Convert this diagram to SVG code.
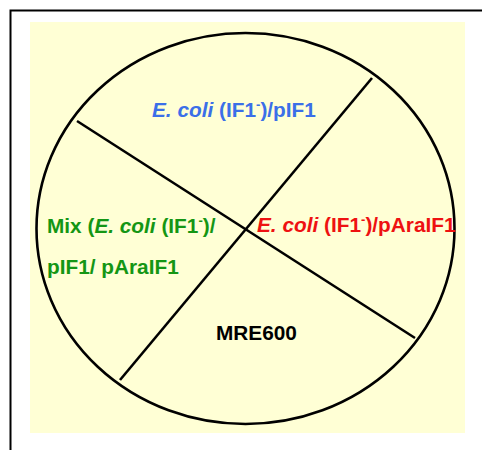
<svg xmlns="http://www.w3.org/2000/svg" width="482" height="450" viewBox="0 0 482 450">
  <style>
    .lbl { font-family: "Liberation Sans", Arial, sans-serif; font-weight: bold; font-size: 20.8px; }
    .sup { font-size: 13px; }
    .cut { stroke: #000; stroke-width: 2.6; fill: none; }
  </style>
  <rect x="0" y="0" width="482" height="450" fill="#fff"/>
  <!-- outer frame -->
  <rect x="10.5" y="10.5" width="490" height="460" fill="none" stroke="#000" stroke-width="2"/>
  <!-- plate background -->
  <rect x="30" y="22" width="435" height="411" fill="#ffffd5"/>
  <!-- plate rim -->
  <ellipse id="plate" cx="245.5" cy="228.5" rx="209" ry="195.5" class="cut"/>
  <g id="connectors">
    <line x1="77" y1="121" x2="415" y2="338" class="cut"/>
    <line x1="372" y1="78" x2="120" y2="380" class="cut"/>
  </g>
  <g id="sector-top">
    <text class="lbl" x="152" y="117" fill="#3b6fe8"><tspan font-style="italic">E. coli</tspan> (IF1<tspan class="sup" dy="-8">-</tspan><tspan dy="8">)/pIF1</tspan></text>
  </g>
  <g id="sector-left">
    <text class="lbl" x="47" y="233" fill="#149614">Mix (<tspan font-style="italic">E. coli</tspan> (IF1<tspan class="sup" dy="-8">-</tspan><tspan dy="8">)/</tspan></text>
    <text class="lbl" x="47" y="274" fill="#149614">pIF1/ pAraIF1</text>
  </g>
  <g id="sector-right">
    <text class="lbl" x="257" y="232" fill="#ee1111"><tspan font-style="italic">E. coli</tspan> (IF1<tspan class="sup" dy="-8">-</tspan><tspan dy="8">)/pAraIF1</tspan></text>
  </g>
  <g id="sector-bottom">
    <text class="lbl" x="216" y="340" fill="#000">MRE600</text>
  </g>
</svg>
